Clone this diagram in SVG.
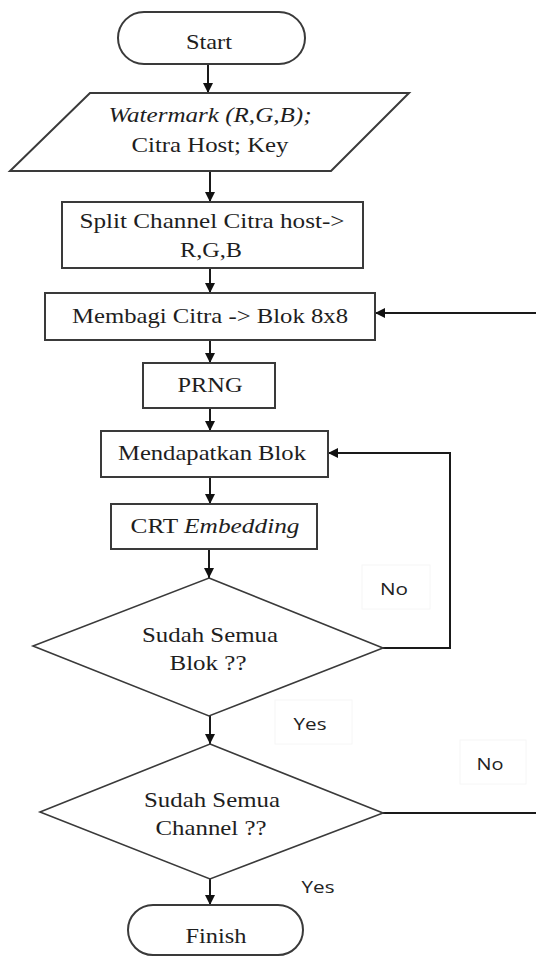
<svg xmlns="http://www.w3.org/2000/svg" width="536" height="957" viewBox="0 0 536 957">
  <defs>
    <marker id="arrow" viewBox="0 0 10 10" refX="10" refY="5" markerWidth="10" markerHeight="11" markerUnits="userSpaceOnUse" orient="auto">
      <path d="M0,0 L10,5 L0,10 Z" fill="#111"/>
    </marker>
    <style>
      .shape { fill: #fff; stroke: #3a3a3a; stroke-width: 2; }
      .dec { fill: #fff; stroke: #3a3a3a; stroke-width: 1.6; }
      .lbl { font-family: "Liberation Serif", "Times New Roman", serif; font-size: 22px; fill: #1e1e1e; text-anchor: middle; }
      .it { font-style: italic; }
      .ans { font-family: "Open Sans", "Liberation Sans", sans-serif; font-size: 17px; fill: #222; text-anchor: middle; }
      .ansbox { fill: none; stroke: #f6f6f6; stroke-width: 1; }
      .flow { fill: none; stroke: #1a1a1a; stroke-width: 2; }
    </style>
  </defs>
  <rect width="536" height="957" fill="#fff"/>

  <!-- connectors -->
  <g id="connectors">
    <line class="flow" x1="208" y1="64" x2="208" y2="93" marker-end="url(#arrow)"/>
    <line class="flow" x1="210" y1="171" x2="210" y2="202" marker-end="url(#arrow)"/>
    <line class="flow" x1="210" y1="268" x2="210" y2="293" marker-end="url(#arrow)"/>
    <line class="flow" x1="210" y1="340" x2="210" y2="363" marker-end="url(#arrow)"/>
    <line class="flow" x1="210" y1="408" x2="210" y2="431" marker-end="url(#arrow)"/>
    <line class="flow" x1="210" y1="477" x2="210" y2="504" marker-end="url(#arrow)"/>
    <line class="flow" x1="209" y1="549" x2="209" y2="578" marker-end="url(#arrow)"/>
    <line class="flow" x1="210" y1="716" x2="210" y2="744" marker-end="url(#arrow)"/>
    <line class="flow" x1="210" y1="879" x2="210" y2="905" marker-end="url(#arrow)"/>
    <!-- "No" loop back to Mendapatkan Blok -->
    <polyline class="flow" points="383,648 450,648 450,453 328,453" marker-end="url(#arrow)"/>
    <!-- "No" loop back to Membagi Citra -->
    <polyline class="flow" points="383,813 540,813 540,313 375,313" marker-end="url(#arrow)"/>
  </g>

  <g id="start">
    <rect class="shape" x="118" y="12" width="187" height="52" rx="26" ry="26"/>
    <text class="lbl" x="209" y="49" textLength="46" lengthAdjust="spacingAndGlyphs">Start</text>
  </g>

  <g id="input">
    <polygon class="shape" points="90,93 409,93 331,171 10,171"/>
    <text class="lbl it" x="210" y="122" textLength="203" lengthAdjust="spacingAndGlyphs">Watermark (R,G,B);</text>
    <text class="lbl" x="210" y="152" textLength="157" lengthAdjust="spacingAndGlyphs">Citra Host; Key</text>
  </g>

  <g id="split">
    <rect class="shape" x="62" y="202" width="301" height="66"/>
    <text class="lbl" x="212" y="228" textLength="265" lengthAdjust="spacingAndGlyphs">Split Channel Citra host-&gt;</text>
    <text class="lbl" x="211" y="257" textLength="62" lengthAdjust="spacingAndGlyphs">R,G,B</text>
  </g>

  <g id="membagi">
    <rect class="shape" x="45" y="293" width="330" height="47"/>
    <text class="lbl" x="210" y="323" textLength="276" lengthAdjust="spacingAndGlyphs">Membagi Citra -&gt; Blok 8x8</text>
  </g>

  <g id="prng">
    <rect class="shape" x="143" y="363" width="132" height="45"/>
    <text class="lbl" x="210" y="392" textLength="65" lengthAdjust="spacingAndGlyphs">PRNG</text>
  </g>

  <g id="mendapatkan">
    <rect class="shape" x="101" y="431" width="227" height="46"/>
    <text class="lbl" x="212" y="460" textLength="188" lengthAdjust="spacingAndGlyphs">Mendapatkan Blok</text>
  </g>

  <g id="crt">
    <rect class="shape" x="111" y="504" width="206" height="45"/>
    <text class="lbl" x="215" y="533" textLength="169" lengthAdjust="spacingAndGlyphs">CRT <tspan class="it">Embedding</tspan></text>
  </g>

  <g id="cek-blok">
    <polygon class="dec" points="209,578 383,648 209,716 33,646"/>
    <text class="lbl" x="210" y="642" textLength="136" lengthAdjust="spacingAndGlyphs">Sudah Semua</text>
    <text class="lbl" x="208" y="670" textLength="77" lengthAdjust="spacingAndGlyphs">Blok ??</text>
  </g>

  <g id="cek-channel">
    <polygon class="dec" points="210,744 383,813 210,879 40,812"/>
    <text class="lbl" x="212" y="807" textLength="136" lengthAdjust="spacingAndGlyphs">Sudah Semua</text>
    <text class="lbl" x="211" y="835" textLength="111" lengthAdjust="spacingAndGlyphs">Channel ??</text>
  </g>

  <g id="finish">
    <rect class="shape" x="128" y="905" width="175" height="50" rx="25" ry="25"/>
    <text class="lbl" x="216" y="943" textLength="61" lengthAdjust="spacingAndGlyphs">Finish</text>
  </g>

  <g id="labels">
    <rect class="ansbox" x="362" y="565" width="68" height="44"/>
    <text class="ans" x="394" y="595" textLength="28" lengthAdjust="spacingAndGlyphs">No</text>
    <rect class="ansbox" x="275" y="700" width="77" height="44"/>
    <text class="ans" x="310" y="730" textLength="33" lengthAdjust="spacingAndGlyphs">Yes</text>
    <rect class="ansbox" x="460" y="740" width="66" height="44"/>
    <text class="ans" x="490" y="770" textLength="27" lengthAdjust="spacingAndGlyphs">No</text>
    <text class="ans" x="318" y="893" textLength="33" lengthAdjust="spacingAndGlyphs">Yes</text>
  </g>
</svg>
